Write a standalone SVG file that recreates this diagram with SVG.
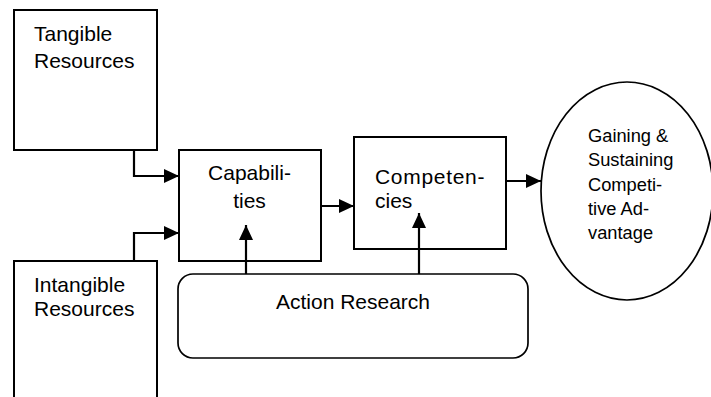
<svg xmlns="http://www.w3.org/2000/svg" width="711" height="397" viewBox="0 0 711 397">
<style>
.box{fill:#fff;stroke:#000;stroke-width:2}
.thin{fill:#fff;stroke:#000;stroke-width:1.7}
.t{font-family:"Liberation Sans",Arial,sans-serif;font-size:21px;fill:#000}
.s{font-family:"Liberation Sans",Arial,sans-serif;font-size:18.3px;fill:#000}
.c{fill:none;stroke:#000;stroke-width:2.2;marker-end:url(#ah)}
</style>
<defs>
<marker id="ah" markerUnits="userSpaceOnUse" markerWidth="16" markerHeight="15" refX="15" refY="7" orient="auto">
<path d="M0,0 L15,7 L0,14 z" fill="#000"/>
</marker>
</defs>
<rect width="711" height="397" fill="#fff"/>
<g id="tangible">
<rect class="box" x="14" y="10" width="143" height="140"/>
<text class="t" x="34" y="40.5">Tangible</text>
<text class="t" x="34" y="68">Resources</text>
</g>
<g id="intangible">
<rect class="box" x="14" y="261" width="143" height="150"/>
<text class="t" x="34" y="291.5">Intangible</text>
<text class="t" x="34" y="316">Resources</text>
</g>
<g id="capabilities">
<rect class="box" x="179" y="150" width="142" height="111"/>
<text class="t" x="249.5" y="180" text-anchor="middle">Capabili-</text>
<text class="t" x="249.5" y="208" text-anchor="middle">ties</text>
</g>
<g id="competencies">
<rect class="box" x="354" y="137" width="152" height="112"/>
<text class="t" x="375" y="184" letter-spacing="0.7">Competen-</text>
<text class="t" x="375" y="207.5">cies</text>
</g>
<g id="action-research">
<rect class="thin" x="178" y="274" width="350" height="84" rx="15" ry="15"/>
<text class="t" x="353" y="309" text-anchor="middle">Action Research</text>
</g>
<g id="advantage">
<ellipse class="thin" cx="627" cy="191" rx="86" ry="109"/>
<text class="s" x="588" y="141.5">Gaining &amp;</text>
<text class="s" x="588" y="166">Sustaining</text>
<text class="s" x="588" y="190.5">Competi-</text>
<text class="s" x="588" y="214.5">tive Ad-</text>
<text class="s" x="588" y="238.5">vantage</text>
</g>
<g id="connectors">
<path class="c" d="M134,150 V176 H179"/>
<path class="c" d="M134,261 V233 H179"/>
<path class="c" d="M321,206 H354"/>
<path class="c" d="M506,181 H541"/>
<path class="c" d="M246,274 V225"/>
<path class="c" d="M419,274 V213"/>
</g>
</svg>
